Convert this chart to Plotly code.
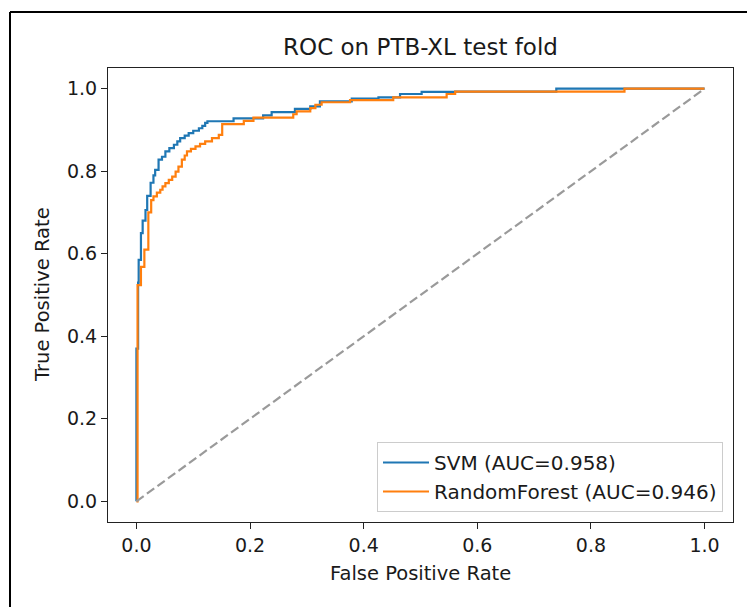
import plotly.graph_objects as go

# ROC points: (fpr where the step up happens, new tpr), drawn with 'hv' steps
svm_fpr = [0.0, 0.0, 0.003, 0.004, 0.008, 0.011, 0.016, 0.019, 0.025, 0.030, 0.033, 0.039, 0.045,
           0.051, 0.058, 0.066, 0.072, 0.077, 0.085, 0.092, 0.100, 0.110, 0.116, 0.121, 0.125,
           0.171, 0.223, 0.238, 0.279, 0.306, 0.323, 0.379, 0.426, 0.464, 0.502, 0.561, 0.739, 1.0]
svm_tpr = [0.0, 0.37, 0.53, 0.585, 0.65, 0.68, 0.706, 0.74, 0.772, 0.79, 0.803, 0.828, 0.835,
           0.848, 0.856, 0.864, 0.872, 0.880, 0.886, 0.892, 0.898, 0.904, 0.910, 0.917, 0.921,
           0.928, 0.935, 0.943, 0.951, 0.957, 0.969, 0.976, 0.979, 0.987, 0.992, 0.993, 1.0, 1.0]

rf_fpr = [0.0, 0.002, 0.008, 0.014, 0.021, 0.026, 0.030, 0.036, 0.042, 0.046, 0.051, 0.057, 0.063,
          0.069, 0.074, 0.080, 0.085, 0.089, 0.096, 0.104, 0.112, 0.121, 0.133, 0.145, 0.151,
          0.189, 0.206, 0.276, 0.282, 0.306, 0.315, 0.326, 0.376, 0.452, 0.546, 0.561, 0.859, 1.0]
rf_tpr = [0.0, 0.524, 0.568, 0.61, 0.70, 0.73, 0.739, 0.748, 0.755, 0.763, 0.771, 0.779, 0.787,
          0.799, 0.811, 0.828, 0.838, 0.848, 0.854, 0.860, 0.866, 0.872, 0.880, 0.888, 0.914,
          0.922, 0.930, 0.938, 0.945, 0.953, 0.961, 0.967, 0.972, 0.979, 0.987, 0.993, 1.0, 1.0]

diag = [0.0, 1.0]
names = ["SVM (AUC=0.958)", "RandomForest (AUC=0.946)"]
tick_vals = [0.0, 0.2, 0.4, 0.6, 0.8, 1.0]
tick_text = ["0.0", "0.2", "0.4", "0.6", "0.8", "1.0"]

FONT = "DejaVu Sans, Verdana, sans-serif"
TXT = "#1a1a1a"

fig = go.Figure()
fig.add_trace(go.Scatter(x=svm_fpr, y=svm_tpr, mode="lines", line_shape="hv", name=names[0],
                         line=dict(color="#1f77b4", width=2.2)))
fig.add_trace(go.Scatter(x=rf_fpr, y=rf_tpr, mode="lines", line_shape="hv", name=names[1],
                         line=dict(color="#ff7f0e", width=2.2)))
fig.add_trace(go.Scatter(x=diag, y=diag, mode="lines", showlegend=False,
                         line=dict(color="#9a9a9a", width=2.2, dash="9px,4px")))

# plot area in pixels: left 108, right 733, top 68, bottom 522
L, R, T, B = 108, 733, 68, 522
W, H = 747, 607
def px(x):
    return (x - L) / (R - L)
def py(y):
    return (B - y) / (B - T)

fig.update_layout(
    width=W, height=H,
    margin=dict(l=L, r=W - R, t=T, b=H - B, pad=0, autoexpand=False),
    paper_bgcolor="white", plot_bgcolor="white",
    font=dict(family=FONT, size=19, color=TXT),
    title=dict(text="ROC on PTB-XL test fold", xref="paper", x=px(420.5), xanchor="center",
               yref="container", y=1 - 47 / H, yanchor="middle", font=dict(size=23, color=TXT)),
    legend=dict(x=px(723), y=py(512), xanchor="right", yanchor="bottom",
                bgcolor="rgba(255,255,255,0.8)", bordercolor="#cccccc", borderwidth=1,
                font=dict(size=20), itemwidth=46, tracegroupgap=4),
    showlegend=True,
    shapes=[
        dict(type="line", xref="paper", yref="paper", x0=px(10), x1=px(747), y0=py(12), y1=py(12),
             line=dict(color="black", width=2)),
        dict(type="line", xref="paper", yref="paper", x0=px(10), x1=px(10), y0=py(12), y1=py(607),
             line=dict(color="black", width=2)),
    ],
    annotations=[
        dict(text="False Positive Rate", xref="paper", yref="paper", x=px(420.5), y=py(573),
             xanchor="center", yanchor="middle", showarrow=False, font=dict(size=19.5, color=TXT)),
        dict(text="True Positive Rate", xref="paper", yref="paper", x=px(42), y=py(295),
             xanchor="center", yanchor="middle", showarrow=False, textangle=-90,
             font=dict(size=19.5, color=TXT)),
    ],
)

fig.update_xaxes(range=[-0.05, 1.05], tickvals=tick_vals, ticktext=tick_text,
                 ticks="outside", ticklen=6, tickwidth=1.2, tickcolor="#222",
                 showline=True, linecolor="#222", linewidth=1.2, mirror=True,
                 showgrid=False, zeroline=False, automargin=False,
                 tickfont=dict(size=19, color=TXT))
fig.update_yaxes(range=[-0.05, 1.05], tickvals=tick_vals, ticktext=tick_text,
                 ticks="outside", ticklen=6, tickwidth=1.2, tickcolor="#222",
                 showline=True, linecolor="#222", linewidth=1.2, mirror=True,
                 showgrid=False, zeroline=False, automargin=False,
                 tickfont=dict(size=19, color=TXT))

fig.write_html("out.html", config={"displayModeBar": False},
               post_script="document.body.style.margin='0';document.body.style.overflow='hidden';")
